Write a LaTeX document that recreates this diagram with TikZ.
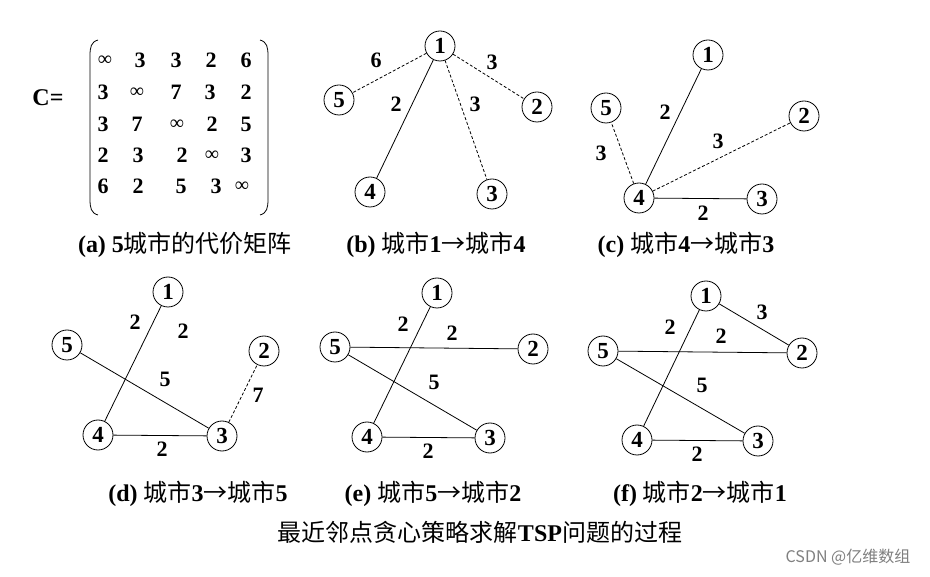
\documentclass[tikz,border=0pt]{standalone}
\usepackage{fontspec}
\setmainfont{Liberation Serif}
\newfontfamily\cjkfont{Noto Sans CJK SC}
\newcommand\zh[1]{{\cjkfont\mdseries #1}}
\tikzset{
  city/.style={circle,draw,line width=0.8pt,minimum size=30pt,inner sep=0pt,font=\bfseries\fontsize{23}{23}\selectfont},
  lbl/.style={font=\bfseries\fontsize{22}{22}\selectfont,inner sep=0pt},
  ent/.style={font=\bfseries\fontsize{22}{22}\selectfont,inner sep=0pt},
  inf/.style={font=\fontsize{20}{20}\selectfont,inner sep=0pt},
  sedge/.style={line width=0.8pt},
  dedge/.style={line width=0.8pt,dash pattern=on 3pt off 2pt},
  captxt/.style={font=\bfseries\fontsize{24}{24}\selectfont,inner sep=0pt},
  ttl/.style={font=\fontsize{24}{24}\selectfont,inner sep=0pt},
}
\begin{document}
\begin{tikzpicture}[x=1pt,y=-1pt]
\useasboundingbox[fill=white] (0,0) rectangle (930,577);
% ---------- (a) matrix
\node[ent,font=\bfseries\fontsize{24}{24}\selectfont] (C) at (48,98) {C=};
\draw[line width=0.8pt] (98,40) .. controls (91,42) and (90,47) .. (90,56) -- (90,199) .. controls (90,208) and (91,213) .. (98,215);
\draw[line width=0.8pt] (260,40) .. controls (267,42) and (268,47) .. (268,56) -- (268,199) .. controls (268,208) and (267,213) .. (260,215);
\node[inf] (m11) at (105,61) {∞};
\node[ent] (m12) at (140,60) {3};
\node[ent] (m13) at (176,60) {3};
\node[ent] (m14) at (211,60) {2};
\node[ent] (m15) at (246,60) {6};
\node[ent] (m21) at (103,92) {3};
\node[inf] (m22) at (137,93) {∞};
\node[ent] (m23) at (176,92) {7};
\node[ent] (m24) at (210,92) {3};
\node[ent] (m25) at (246,92) {2};
\node[ent] (m31) at (103,124) {3};
\node[ent] (m32) at (137,124) {7};
\node[inf] (m33) at (177,125) {∞};
\node[ent] (m34) at (212,124) {2};
\node[ent] (m35) at (246,124) {5};
\node[ent] (m41) at (103,155) {2};
\node[ent] (m42) at (138,155) {3};
\node[ent] (m43) at (182,155) {2};
\node[inf] (m44) at (212,156) {∞};
\node[ent] (m45) at (246,155) {3};
\node[ent] (m51) at (103,186) {6};
\node[ent] (m52) at (138,186) {2};
\node[ent] (m53) at (181,186) {5};
\node[ent] (m54) at (216,186) {3};
\node[inf] (m55) at (242,187) {∞};
\node[captxt] (capa) at (185,245) {(a) 5\zh{城市的代价矩阵}};
% ---------- (b)
\node[city] (b1) at (440,46) {1};
\node[city] (b5) at (339,100) {5};
\node[city] (b2) at (537,107) {2};
\node[city] (b4) at (370,192) {4};
\node[city] (b3) at (492,194) {3};
\draw[dedge] (b1) -- (b5);
\draw[dedge] (b1) -- (b2);
\draw[sedge] (b1) -- (b4);
\draw[dedge] (b1) -- (b3);
\node[lbl] (lb15) at (376,60) {6};
\node[lbl] (lb12) at (492,62) {3};
\node[lbl] (lb14) at (396,104) {2};
\node[lbl] (lb13) at (475,104) {3};
\node[captxt] (capb) at (436,245) {(b) \zh{城市}1\zh{→}\zh{城市}4};
% ---------- (c)
\node[city] (c1) at (708,55) {1};
\node[city] (c5) at (606,108) {5};
\node[city] (c2) at (804,116) {2};
\node[city] (c4) at (639,198) {4};
\node[city] (c3) at (762,199) {3};
\draw[sedge] (c4) -- (c1);
\draw[dedge] (c4) -- (c5);
\draw[dedge] (c4) -- (c2);
\draw[sedge] (c4) -- (c3);
\node[lbl] (lc41) at (665,112) {2};
\node[lbl] (lc42) at (718,141) {3};
\node[lbl] (lc45) at (601,153) {3};
\node[lbl] (lc43) at (703,213) {2};
\node[captxt] (capc) at (686,245) {(c) \zh{城市}4\zh{→}\zh{城市}3};
% ---------- (d)
\node[city] (d1) at (168,292) {1};
\node[city] (d5) at (67,345) {5};
\node[city] (d2) at (264,351) {2};
\node[city] (d4) at (98,435) {4};
\node[city] (d3) at (222,436) {3};
\draw[sedge] (d1) -- (d4);
\draw[sedge] (d5) -- (d3);
\draw[sedge] (d4) -- (d3);
\draw[dedge] (d3) -- (d2);
\node[lbl] (ld14) at (135,322) {2};
\node[lbl] (ld12) at (183,331) {2};
\node[lbl] (ld53) at (165,379) {5};
\node[lbl] (ld32) at (258,395) {7};
\node[lbl] (ld43) at (162,449) {2};
\node[captxt] (capd) at (198,494) {(d) \zh{城市}3\zh{→}\zh{城市}5};
% ---------- (e)
\node[city] (e1) at (437,293) {1};
\node[city] (e5) at (335,347) {5};
\node[city] (e2) at (533,349) {2};
\node[city] (e4) at (367,437) {4};
\node[city] (e3) at (490,438) {3};
\draw[sedge] (e1) -- (e4);
\draw[sedge] (e5) -- (e2);
\draw[sedge] (e5) -- (e3);
\draw[sedge] (e4) -- (e3);
\node[lbl] (le14) at (403,324) {2};
\node[lbl] (le52) at (452,333) {2};
\node[lbl] (le53) at (434,382) {5};
\node[lbl] (le43) at (428,451) {2};
\node[captxt] (cape) at (433,494) {(e) \zh{城市}5\zh{→}\zh{城市}2};
% ---------- (f)
\node[city] (f1) at (706,296) {1};
\node[city] (f5) at (603,351) {5};
\node[city] (f2) at (802,353) {2};
\node[city] (f4) at (637,440) {4};
\node[city] (f3) at (758,441) {3};
\draw[sedge] (f1) -- (f4);
\draw[sedge] (f1) -- (f2);
\draw[sedge] (f5) -- (f2);
\draw[sedge] (f5) -- (f3);
\draw[sedge] (f4) -- (f3);
\node[lbl] (lf12) at (762,312) {3};
\node[lbl] (lf14) at (670,327) {2};
\node[lbl] (lf52) at (721,336) {2};
\node[lbl] (lf53) at (702,385) {5};
\node[lbl] (lf43) at (697,454) {2};
\node[captxt] (capf) at (700,494) {(f) \zh{城市}2\zh{→}\zh{城市}1};
% ---------- title and watermark
\node[ttl] (title) at (480,532) {\zh{最近邻点贪心策略求解}\textbf{TSP}\zh{问题的过程}};
\node[font=\fontsize{16}{16}\selectfont,text=black!50,inner sep=0pt] (wm) at (848,557) {\cjkfont CSDN @亿维数组};
\end{tikzpicture}
\end{document}
